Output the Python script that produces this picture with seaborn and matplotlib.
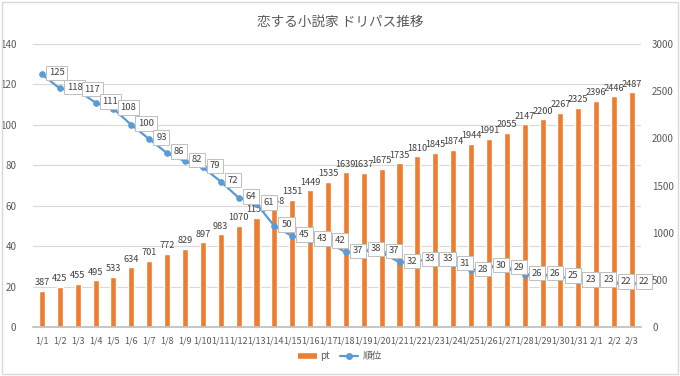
import matplotlib
matplotlib.use("Agg")
import matplotlib.pyplot as plt
import matplotlib.patches as mpatches
from matplotlib.lines import Line2D
import seaborn as sns
import pandas as pd

dates = ["1/1", "1/2", "1/3", "1/4", "1/5", "1/6", "1/7", "1/8", "1/9", "1/10",
         "1/11", "1/12", "1/13", "1/14", "1/15", "1/16", "1/17", "1/18", "1/19", "1/20",
         "1/21", "1/22", "1/23", "1/24", "1/25", "1/26", "1/27", "1/28", "1/29", "1/30",
         "1/31", "2/1", "2/2", "2/3"]
pt = [387, 425, 455, 495, 533, 634, 701, 772, 829, 897,
      983, 1070, 1159, 1248, 1351, 1449, 1535, 1639, 1637, 1675,
      1735, 1810, 1845, 1874, 1944, 1991, 2055, 2147, 2200, 2267,
      2325, 2396, 2446, 2487]
rank = [125, 118, 117, 111, 108, 100, 93, 86, 82, 79,
        72, 64, 61, 50, 45, 43, 42, 37, 38, 37,
        32, 33, 33, 31, 28, 30, 29, 26, 26, 25,
        23, 23, 22, 22]
left_ticks = [0, 20, 40, 60, 80, 100, 120, 140]
right_ticks = [0, 500, 1000, 1500, 2000, 2500, 3000]
title = "恋する小説家 ドリパス推移"

df = pd.DataFrame({"date": dates, "pt": pt, "rank": rank, "i": range(len(dates))})

sns.set_theme(style="white")
plt.rcParams['font.family'] = ['Noto Sans CJK JP', 'DejaVu Sans']

ORANGE = "#ED7D31"
BLUE = "#5B9BD5"
TXT = "#595959"

fig = plt.figure(figsize=(6.8, 3.76), dpi=100)
fig.patches.append(mpatches.Rectangle((0.003, 0.004), 0.994, 0.992, transform=fig.transFigure,
                                      fill=False, edgecolor="#D9D9D9", linewidth=1))
ax = fig.add_axes([0.0485, 0.130, 0.894, 0.753])

# bars on right scale
sns.barplot(data=df, x="date", y="pt", color=ORANGE, saturation=1, width=0.34, ax=ax, zorder=2)
ax.set_ylim(0, 3000)
ax.set_xlim(-0.5, len(dates) - 0.5)
ax.set_xlabel("")
ax.set_ylabel("")
for v in left_ticks[1:]:
    ax.axhline(v * 3000 / 140, color="#D9D9D9", linewidth=0.8, zorder=0)
for i, v in enumerate(pt):
    ax.text(i, v + 40, str(v), ha="center", va="bottom", fontsize=6.6, color="#404040", zorder=3)

# line on left scale
ax2 = ax.twinx()
ax.yaxis.tick_right()
ax.set_yticks(right_ticks)
ax.tick_params(axis="y", labelsize=7, colors=TXT, length=0, pad=8, left=False, labelleft=False,
               right=False, labelright=True)
ax.tick_params(axis="x", labelsize=6.5, colors=TXT, length=3, color="#BFBFBF")
for s in ["top", "left", "right"]:
    ax.spines[s].set_visible(False)
ax.spines["bottom"].set_color("#BFBFBF")

sns.lineplot(data=df, x="i", y="rank", color=BLUE, linewidth=1.6, marker="o", markersize=4,
             markeredgecolor=BLUE, ax=ax2, zorder=4)
ax2.set_ylim(0, 140)
ax2.set_xlim(-0.5, len(dates) - 0.5)
ax2.set_yticks(left_ticks)
ax2.tick_params(axis="y", labelsize=7, colors=TXT, length=0, pad=12, left=False, labelleft=True,
                right=False, labelright=False)
ax2.set_xlabel("")
ax2.set_ylabel("")
for s in ax2.spines.values():
    s.set_visible(False)
for i, v in enumerate(rank):
    ax2.annotate(str(v), (i, v), xytext=(5, 1), textcoords="offset points",
                 ha="left", va="center", fontsize=6.8, color="#404040", zorder=5,
                 bbox=dict(boxstyle="square,pad=0.3", fc="white", ec="#BFBFBF", lw=0.7))

fig.text(0.5, 0.942, title, ha="center", va="center", fontsize=9.8, color=TXT)

handles = [Line2D([0], [0], color=ORANGE, lw=4, solid_capstyle="butt", label="pt"),
           Line2D([0], [0], color=BLUE, lw=1.6, marker="o", markersize=4, label="順位")]
fig.legend(handles=handles, loc="center", bbox_to_anchor=(0.5, 0.053), ncol=2, frameon=False,
           fontsize=7, labelcolor=TXT, handlelength=1.9, columnspacing=1.0, handletextpad=0.4)

fig.savefig("out.png", dpi=100)
